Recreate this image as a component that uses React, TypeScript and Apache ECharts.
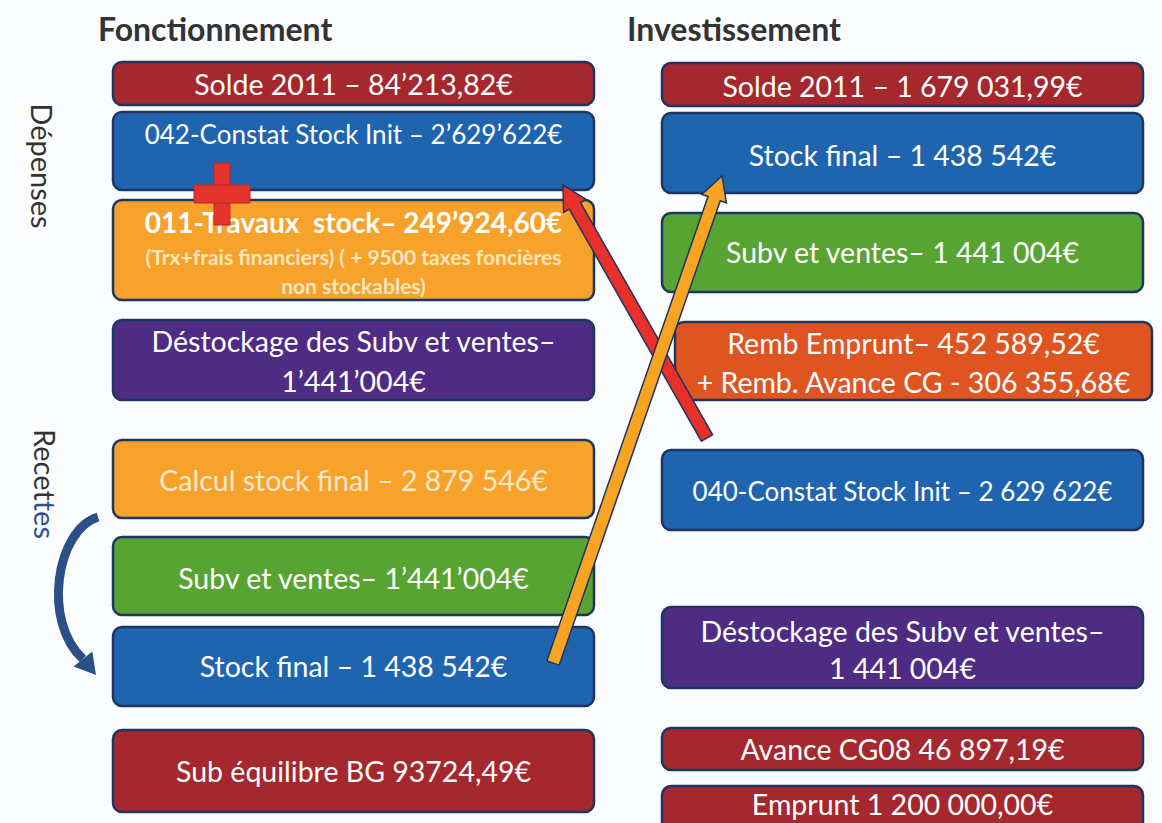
import React, { useEffect, useRef } from "react";
import * as echarts from "echarts";

const W = 1162;
const H = 823;

// ---------- content ----------
const sectionTitles = ["Fonctionnement", "Investissement"];
const sideLabelDepenses = "Dépenses";
const sideLabelRecettesA = "Recet";
const sideLabelRecettesB = "tes";

const fonctionnementLines: string[][] = [
  ["Solde 2011 – 84’213,82€"],
  ["042-Constat Stock Init – 2’629’622€"],
  ["011-Travaux  stock– 249’924,60€", "(Trx+frais financiers) ( + 9500 taxes foncières", "non stockables)"],
  ["Déstockage des Subv et ventes–", "1’441’004€"],
  ["Calcul stock final – 2 879 546€"],
  ["Subv et ventes– 1’441’004€"],
  ["Stock final – 1 438 542€"],
  ["Sub équilibre BG 93724,49€"],
];
const fonctionnementKinds = ["solde", "stock", "travaux", "destock", "calcul", "subv", "stock", "solde"];

const investissementLines: string[][] = [
  ["Solde 2011 – 1 679 031,99€"],
  ["Stock final – 1 438 542€"],
  ["Subv et ventes– 1 441 004€"],
  ["Remb Emprunt– 452 589,52€", "+ Remb. Avance CG - 306 355,68€"],
  ["040-Constat Stock Init – 2 629 622€"],
  ["Déstockage des Subv et ventes–", "1 441 004€"],
  ["Avance CG08 46 897,19€"],
  ["Emprunt 1 200 000,00€"],
];
const investissementKinds = ["solde", "stock", "subv", "remb", "stock", "destock", "solde", "solde"];

// ---------- layout (positions in diagram units) ----------
const leftColX = [113, 594];
const rightColX = [662, 1143];
const leftRows = [[62, 105], [112, 190], [200, 300], [320, 400], [440, 518], [537, 615], [627, 706], [730, 812]];
const rightRows = [[63, 106], [113, 193], [213, 292], [322, 400], [450, 530], [607, 688], [728, 770], [786, 842]];
const rightColXOverride: Record<number, number[]> = { 3: [675, 1152] };
const leftLineY: number[][] = [[84], [134], [222, 256, 285], [341, 381], [480], [578], [666], [771]];
const rightLineY: number[][] = [[86], [155], [252], [343, 382], [491], [631, 668], [749], [804]];

// ---------- styles ----------
const FONT = 'Lato, "Open Sans", sans-serif';
const MAIN_SIZE = 28.5;
const kindFill: Record<string, string> = {
  solde: "#a4282d",
  stock: "#1f64ae",
  travaux: "#f6a22b",
  calcul: "#f6a22b",
  destock: "#4e2c84",
  subv: "#58a433",
  remb: "#de5522",
};
const BORDER = "#1e3560";

function lineStyle(kind: string, lineIdx: number, text: string) {
  let size = MAIN_SIZE;
  let weight: any = "normal";
  let fill = "#ffffff";
  if (text.startsWith("042") || text.startsWith("040")) size = 26;
  if (kind === "travaux") {
    if (lineIdx === 0) {
      weight = "bold";
      size = 28;
    } else {
      size = 21;
      weight = "bold";
      fill = "#fde6bf";
    }
  }
  if (kind === "calcul") fill = "#fce9c9";
  return { size, weight, fill };
}

function boxRender(lines: string[][], kinds: string[], colX: number[], rows: number[][], lineY: number[][], override: Record<number, number[]>) {
  return (params: any, api: any) => {
    const i = params.dataIndex;
    const xs = override[i] || colX;
    const p0 = api.coord([xs[0], rows[i][0]]);
    const p1 = api.coord([xs[1], rows[i][1]]);
    const cx = (p0[0] + p1[0]) / 2;
    const children: any[] = [
      {
        type: "rect",
        shape: { x: p0[0], y: p0[1], width: p1[0] - p0[0], height: p1[1] - p0[1], r: 9 },
        style: { fill: kindFill[kinds[i]], stroke: BORDER, lineWidth: 2.5 },
      },
    ];
    lines[i].forEach((t, j) => {
      const st = lineStyle(kinds[i], j, t);
      const py = api.coord([0, lineY[i][j]])[1];
      children.push({
        type: "text",
        x: cx,
        y: py,
        style: {
          text: t,
          fill: st.fill,
          fontSize: st.size,
          fontWeight: st.weight,
          fontFamily: FONT,
          align: "center",
          verticalAlign: "middle",
        },
      });
    });
    return { type: "group", children };
  };
}

// arrows: [tailX, tailY, tipX, tipY]
const straightArrows = [
  [707, 438, 563, 185],
  [553, 663, 722, 176],
];
const arrowFills = ["#e8302a", "#f6a422"];

function arrowPoints(a: number[], b: number[], w: number, hw: number, hl: number) {
  const dx = b[0] - a[0];
  const dy = b[1] - a[1];
  const len = Math.sqrt(dx * dx + dy * dy);
  const ux = dx / len, uy = dy / len;
  const nx = -uy, ny = ux;
  const bx = b[0] - ux * hl, by = b[1] - uy * hl;
  return [
    [a[0] + nx * w, a[1] + ny * w],
    [bx + nx * w, by + ny * w],
    [bx + nx * hw, by + ny * hw],
    [b[0], b[1]],
    [bx - nx * hw, by - ny * hw],
    [bx - nx * w, by - ny * w],
    [a[0] - nx * w, a[1] - ny * w],
  ];
}

// curved arrow (Recettes): start, cp1, cp2, end, tip
const curvePts = [[98, 517], [56, 530], [42, 622], [83, 659], [96, 675]];
// plus sign: center
const plusCenter = [222, 194];

const option: any = {
  animation: false,
  backgroundColor: "#fbfcfd",
  grid: { left: 0, top: 0, right: 0, bottom: 0 },
  xAxis: { type: "value", min: 0, max: W, show: false },
  yAxis: { type: "value", min: 0, max: H, inverse: true, show: false },
  series: [
    {
      type: "custom",
      name: "Fonctionnement",
      coordinateSystem: "cartesian2d",
      data: fonctionnementLines.map((_, i) => [i, i]),
      renderItem: boxRender(fonctionnementLines, fonctionnementKinds, leftColX, leftRows, leftLineY, {}),
      z: 2,
    },
    {
      type: "custom",
      name: "Investissement",
      coordinateSystem: "cartesian2d",
      data: investissementLines.map((_, i) => [i, i]),
      renderItem: boxRender(investissementLines, investissementKinds, rightColX, rightRows, rightLineY, rightColXOverride),
      z: 2,
    },
    {
      type: "custom",
      name: "arrows",
      coordinateSystem: "cartesian2d",
      data: straightArrows.map((a, i) => [i, i]),
      renderItem: (params: any, api: any) => {
        const a = straightArrows[params.dataIndex];
        const p0 = api.coord([a[0], a[1]]);
        const p1 = api.coord([a[2], a[3]]);
        return {
          type: "polygon",
          shape: { points: arrowPoints(p0, p1, 6.5, 13, 24) },
          style: { fill: arrowFills[params.dataIndex], stroke: BORDER, lineWidth: 1.5 },
        };
      },
      z: 5,
    },
    {
      type: "custom",
      name: "decor",
      coordinateSystem: "cartesian2d",
      data: [[0, 0]],
      renderItem: (params: any, api: any) => {
        const c = curvePts.map((p) => api.coord(p));
        const tip = c[4];
        const end = c[3];
        const dx = tip[0] - end[0], dy = tip[1] - end[1];
        const len = Math.sqrt(dx * dx + dy * dy);
        const nx = -dy / len, ny = dx / len;
        const hw = 12;
        const pc = api.coord(plusCenter);
        return {
          type: "group",
          children: [
            {
              type: "bezierCurve",
              shape: { x1: c[0][0], y1: c[0][1], cpx1: c[1][0], cpy1: c[1][1], cpx2: c[2][0], cpy2: c[2][1], x2: c[3][0], y2: c[3][1] },
              style: { stroke: "#2b4f86", lineWidth: 9, fill: null },
            },
            {
              type: "polygon",
              shape: { points: [[tip[0], tip[1]], [end[0] + nx * hw, end[1] + ny * hw], [end[0] - nx * hw, end[1] - ny * hw]] },
              style: { fill: "#2b4f86" },
            },
            {
              type: "rect",
              shape: { x: pc[0] - 8, y: pc[1] - 31, width: 16, height: 62 },
              style: { fill: "#e4342b", stroke: "#b8262a", lineWidth: 1 },
            },
            {
              type: "rect",
              shape: { x: pc[0] - 28, y: pc[1] - 9, width: 56, height: 18 },
              style: { fill: "#e4342b", stroke: "#b8262a", lineWidth: 1 },
            },
          ],
        };
      },
      z: 6,
    },
  ],
  graphic: [
    {
      type: "text",
      left: 98,
      top: 12,
      style: { text: sectionTitles[0], fill: "#333333", fontSize: 32, fontWeight: "bold", fontFamily: FONT },
    },
    {
      type: "text",
      left: 627,
      top: 12,
      style: { text: sectionTitles[1], fill: "#333333", fontSize: 32, fontWeight: "bold", fontFamily: FONT },
    },
    {
      type: "text",
      x: 42,
      y: 166,
      rotation: -Math.PI / 2,
      style: {
        text: sideLabelDepenses,
        fill: "#333333",
        fontSize: 29,
        fontFamily: FONT,
        align: "center",
        verticalAlign: "middle",
      },
    },
    {
      type: "text",
      x: 45,
      y: 484,
      rotation: -Math.PI / 2,
      style: {
        text: "{a|" + sideLabelRecettesA + "}{b|" + sideLabelRecettesB + "}",
        align: "center",
        verticalAlign: "middle",
        rich: {
          a: { fill: "#333333", fontSize: 29, fontFamily: FONT },
          b: { fill: "#2e4f8e", fontSize: 29, fontFamily: FONT },
        },
      },
    },
  ],
};

export default function App() {
  const ref = useRef<HTMLDivElement>(null);
  useEffect(() => {
    document.body.style.margin = "0";
    const chart = echarts.init(ref.current as HTMLDivElement, null, { renderer: "svg" });
    chart.setOption(option);
    return () => chart.dispose();
  }, []);
  return <div ref={ref} style={{ width: W, height: H }} />;
}
